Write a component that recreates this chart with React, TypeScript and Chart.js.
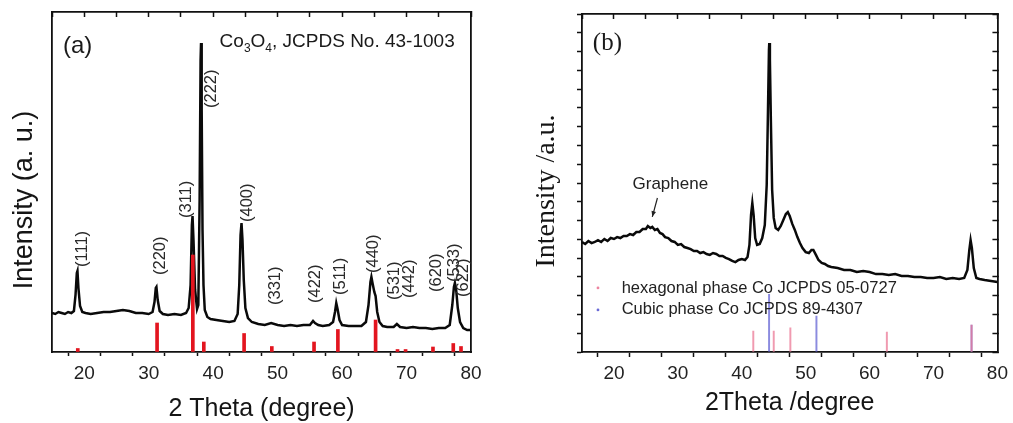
import React, { useEffect, useRef } from 'react';
import { Chart, registerables } from 'chart.js';

Chart.register(...registerables);

// ---------------- Panel (a): Co3O4 XRD pattern ----------------
const aTheta = [
  15.0, 15.5, 16.0, 16.5, 17.0, 17.5, 18.0, 18.4, 18.65, 18.85, 18.95, 19.1, 19.35, 19.7, 20.2,
  21.0, 22.0, 23.0, 24.0, 25.0, 26.0, 27.0, 28.0, 29.0, 30.0, 30.6, 30.9, 31.1, 31.2, 31.4,
  31.7, 32.2, 33.0, 34.0, 35.0, 35.8, 36.2, 36.5, 36.7, 36.8, 36.95, 37.2, 37.5, 37.7, 37.9,
  38.05, 38.12, 38.22, 38.35, 38.5, 38.7, 39.1, 39.6, 40.5, 41.5, 42.5, 43.3, 43.8, 44.05, 44.25,
  44.4, 44.55, 44.75, 45.0, 45.4, 46.0, 47.0, 48.0, 49.0, 50.0, 51.0, 52.0, 53.0, 54.0, 55.0,
  55.5, 55.8, 56.3, 57.0, 58.0, 58.6, 58.9, 59.1, 59.3, 59.6, 60.0, 61.0, 62.0, 63.0, 63.7,
  64.1, 64.4, 64.55, 64.75, 65.0, 65.2, 65.45, 65.8, 66.3, 67.0, 68.0, 68.5, 69.0, 70.0, 71.0,
  72.0, 73.0, 74.0, 75.0, 76.0, 76.7, 77.1, 77.35, 77.5, 77.7, 77.95, 78.3, 78.8, 79.4, 80.0,
];
const aIntensity = [
  39, 38, 40, 39, 38, 40, 39, 41, 57, 79, 81, 64, 46, 40, 39,
  38, 39, 40, 40, 41, 42, 41, 39, 39, 38, 40, 50, 64, 65, 52,
  41, 38, 37, 38, 37, 39, 44, 67, 127, 136, 112, 62, 43, 47, 152,
  292, 309, 242, 122, 67, 42, 35, 33, 32, 31, 30, 31, 38, 67, 117,
  129, 112, 72, 44, 34, 30, 28, 27, 29, 27, 26, 27, 26, 27, 27,
  31, 29, 27, 26, 27, 30, 40, 49, 43, 32, 27, 26, 26, 26, 30,
  47, 70, 75, 68, 60, 56, 40, 30, 26, 25, 25, 28, 25, 24, 25,
  24, 24, 23, 24, 24, 27, 47, 65, 69, 62, 44, 30, 24, 22, 22,
];
// JCPDS No. 43-1003 reference lines
const aRefTheta = [19.0, 31.3, 36.85, 38.55, 44.8, 49.1, 55.65, 59.35, 65.2, 68.6, 69.85, 74.1, 77.25, 78.45];
const aRefIntensity = [3.5, 29, 97, 10, 18.5, 5.5, 10, 22.5, 32, 2.5, 2.5, 5, 8.5, 5.5];
// Miller indices annotating the peaks
const aHklLabels = ['(111)', '(220)', '(311)', '(222)', '(400)', '(331)', '(422)', '(511)', '(440)', '(531)', '(442)', '(620)', '(533)', '(622)'];
const xTickLabels = ['20', '30', '40', '50', '60', '70', '80'];

// ---------------- Panel (b): Co/graphene XRD pattern ----------------
const bTheta = [
  15, 15.5, 16, 16.5, 17, 17.5, 18, 18.5, 19, 19.5, 20, 20.5, 21, 21.5, 22,
  22.5, 23, 23.5, 24, 24.5, 25, 25.3, 25.7, 26, 26.4, 26.8, 27.2, 27.6, 28, 28.5,
  29, 29.5, 30, 30.5, 31, 31.5, 32, 32.5, 33, 33.5, 34, 34.5, 35, 35.5, 36,
  36.5, 37, 37.5, 38, 38.5, 39, 39.5, 40, 40.5, 40.9, 41.2, 41.45, 41.65, 41.85, 42.1,
  42.4, 42.8, 43.2, 43.6, 43.9, 44.1, 44.25, 44.3, 44.4, 44.55, 44.75, 45.0, 45.3, 45.7, 46.1,
  46.5, 46.9, 47.2, 47.5, 47.9, 48.3, 48.7, 49.1, 49.5, 50.0, 50.5, 50.9, 51.2, 51.6, 52.0,
  52.5, 53, 53.5, 54, 55, 56, 57, 58, 59, 60, 61, 62, 63, 64, 65,
  66, 67, 68, 69, 70, 71, 72, 73, 74, 74.8, 75.3, 75.6, 75.8, 76.0, 76.3,
  76.7, 77.2, 78, 79, 80,
];
const bIntensity = [
  5.86, 5.75, 5.91, 5.80, 5.86, 5.96, 5.86, 6.02, 5.91, 6.07, 6.02, 6.12, 6.07, 6.18, 6.18,
  6.28, 6.23, 6.39, 6.39, 6.55, 6.55, 6.71, 6.60, 6.66, 6.50, 6.55, 6.34, 6.28, 6.12, 6.07,
  5.91, 5.86, 5.70, 5.75, 5.59, 5.54, 5.48, 5.38, 5.38, 5.27, 5.32, 5.22, 5.17, 5.27, 5.22,
  5.11, 5.11, 5.01, 4.95, 4.85, 4.79, 4.90, 4.95, 4.90, 5.06, 5.70, 7.30, 7.93, 7.30, 6.07,
  5.70, 5.75, 6.07, 6.76, 8.89, 12.89, 16.08, 16.45, 15.55, 12.35, 8.63, 7.14, 6.60, 6.50, 6.71,
  7.03, 7.35, 7.45, 7.24, 6.82, 6.50, 6.12, 5.80, 5.54, 5.32, 5.27, 5.43, 5.43, 5.17, 4.90,
  4.74, 4.69, 4.58, 4.53, 4.47, 4.37, 4.37, 4.26, 4.31, 4.26, 4.15, 4.15, 4.10, 4.15, 4.05,
  4.05, 3.99, 3.99, 3.94, 3.94, 3.99, 3.89, 3.94, 3.89, 3.94, 4.37, 5.43, 5.96, 5.54, 4.47,
  3.94, 3.89, 3.83, 3.78, 3.73,
];
// hexagonal phase Co, JCPDS 05-0727
const bHexTheta = [41.8, 45.0, 47.6, 62.7, 75.95];
const bHexIntensity = [1.12, 1.12, 1.29, 1.06, 1.43];
// cubic phase Co, JCPDS 89-4307
const bCubicTheta = [44.27, 51.68, 75.95];
const bCubicIntensity = [3.07, 1.91, 1.43];
const bLegendLabels = ['hexagonal phase Co JCPDS 05-0727', 'Cubic phase Co JCPDS 89-4307'];

const SANS = '"Liberation Sans", Arial, Helvetica, sans-serif';
const SERIF = '"Liberation Serif", "Times New Roman", Times, serif';
const AXIS = '#111';
const TEXT = '#222';

const toPoints = (xs: number[], ys: number[]) => xs.map((x, i) => ({ x, y: ys[i] }));

function xScales(tickLen: number, topH: number, title: string, titlePadBottom: number) {
  return {
    x: {
      type: 'linear', position: 'bottom', min: 15, max: 80, offset: false,
      ticks: {
        stepSize: 5, autoSkip: false, maxRotation: 0, padding: 10 - tickLen, color: TEXT,
        font: { family: SANS, size: 19 },
        callback: (v: number) => (xTickLabels.includes(String(v)) ? String(v) : ''),
      },
      grid: { drawOnChartArea: false, drawTicks: true, tickLength: tickLen, tickColor: AXIS, tickWidth: 1.5 },
      border: { display: true, color: AXIS, width: 1.8 },
      title: {
        display: true, text: title, color: '#151515',
        font: { family: SANS, size: 25, lineHeight: 1 },
        padding: { top: 0, bottom: titlePadBottom },
      },
      afterFit: (s: any) => { s.height = 71; },
    },
    xTop: {
      type: 'linear', position: 'top', min: 15, max: 80, offset: false,
      ticks: { display: false, stepSize: 5 },
      grid: { drawOnChartArea: false, drawTicks: true, tickLength: -5, tickColor: AXIS, tickWidth: 1.5 },
      border: { display: true, color: AXIS, width: 1.8 },
      afterFit: (s: any) => { s.height = topH; },
    },
  };
}

// ---------- annotation plugins ----------
const panelAText = {
  id: 'panelAText',
  afterDatasetsDraw(chart: any) {
    const { ctx, scales } = chart;
    const x = scales.x, y = scales.y;
    const hklAnchor = [
      [19.65, 85], [31.75, 77], [35.9, 134], [39.8, 244], [45.25, 130], [49.6, 47], [55.8, 49],
      [59.8, 57], [64.8, 79], [68.1, 52], [70.5, 54], [74.6, 60], [77.4, 70], [78.9, 55],
    ];
    ctx.save();
    ctx.fillStyle = '#2a2a2a';
    ctx.font = `16.5px ${SANS}`;
    ctx.textAlign = 'left';
    ctx.textBaseline = 'middle';
    aHklLabels.forEach((t, i) => {
      ctx.save();
      ctx.translate(x.getPixelForValue(hklAnchor[i][0]), y.getPixelForValue(hklAnchor[i][1]));
      ctx.rotate(-Math.PI / 2);
      ctx.fillText(t, 0, 0);
      ctx.restore();
    });
    // panel tag
    ctx.fillStyle = '#1a1a1a';
    ctx.font = `24px ${SANS}`;
    ctx.fillText('(a)', x.getPixelForValue(16.7), y.getPixelForValue(306));
    // phase caption with subscripts
    ctx.textBaseline = 'alphabetic';
    let cx = x.getPixelForValue(41.0);
    const base = y.getPixelForValue(305);
    const parts: [string, boolean][] = [['Co', false], ['3', true], ['O', false], ['4', true], [', JCPDS No. 43-1003', false]];
    for (const [t, sub] of parts) {
      ctx.font = sub ? `12px ${SANS}` : `19px ${SANS}`;
      ctx.fillText(t, cx, sub ? base + 5 : base);
      cx += ctx.measureText(t).width;
    }
    // y-axis title
    ctx.font = `27px ${SANS}`;
    ctx.fillStyle = '#151515';
    ctx.textAlign = 'center';
    ctx.textBaseline = 'middle';
    ctx.translate(25, 200);
    ctx.rotate(-Math.PI / 2);
    ctx.fillText('Intensity (a. u.)', 0, 0);
    ctx.restore();
  },
};

const panelBText = {
  id: 'panelBText',
  afterDatasetsDraw(chart: any) {
    const { ctx, scales } = chart;
    const x = scales.x, y = scales.y;
    ctx.save();
    // panel tag
    ctx.fillStyle = '#1a1a1a';
    ctx.font = `25px ${SERIF}`;
    ctx.textAlign = 'left';
    ctx.textBaseline = 'middle';
    ctx.fillText('(b)', x.getPixelForValue(16.7), y.getPixelForValue(16.45));
    // Graphene label + arrow
    ctx.font = `17px ${SANS}`;
    ctx.fillStyle = '#222';
    ctx.fillText('Graphene', x.getPixelForValue(22.9), y.getPixelForValue(8.95));
    const x1 = x.getPixelForValue(26.8), y1 = y.getPixelForValue(8.2);
    const x2 = x.getPixelForValue(26.0), y2 = y.getPixelForValue(7.2);
    ctx.strokeStyle = '#222';
    ctx.lineWidth = 1.2;
    ctx.beginPath(); ctx.moveTo(x1, y1); ctx.lineTo(x2, y2); ctx.stroke();
    const ang = Math.atan2(y2 - y1, x2 - x1);
    ctx.beginPath();
    ctx.moveTo(x2, y2);
    ctx.lineTo(x2 - 6 * Math.cos(ang - 0.4), y2 - 6 * Math.sin(ang - 0.4));
    ctx.lineTo(x2 - 6 * Math.cos(ang + 0.4), y2 - 6 * Math.sin(ang + 0.4));
    ctx.closePath();
    ctx.fillStyle = '#222';
    ctx.fill();
    // legend
    const legendColors = ['rgba(235,120,150,0.9)', 'rgba(90,90,210,0.9)'];
    const legendY = [3.41, 2.24];
    ctx.font = `16.5px ${SANS}`;
    bLegendLabels.forEach((t, i) => {
      const ly = y.getPixelForValue(legendY[i]);
      ctx.fillStyle = legendColors[i];
      ctx.beginPath();
      ctx.arc(x.getPixelForValue(17.5), ly, 1.4, 0, Math.PI * 2);
      ctx.fill();
      ctx.fillStyle = '#222';
      ctx.fillText(t, x.getPixelForValue(21.2), ly);
    });
    // y-axis title
    ctx.font = `28px ${SERIF}`;
    ctx.fillStyle = '#151515';
    ctx.textAlign = 'center';
    ctx.translate(37, 191);
    ctx.rotate(-Math.PI / 2);
    ctx.fillText('Intensity /a.u.', 0, 0);
    ctx.restore();
  },
};

function PanelA() {
  const ref = useRef<HTMLCanvasElement>(null);
  useEffect(() => {
    if (!ref.current) return;
    const chart = new Chart(ref.current, {
      type: 'line',
      data: {
        datasets: [
          {
            type: 'bar', label: 'JCPDS No. 43-1003', data: toPoints(aRefTheta, aRefIntensity) as any,
            backgroundColor: '#e3151f', barThickness: 3, grouped: false, order: 0,
          } as any,
          {
            type: 'line', label: 'Co3O4', data: toPoints(aTheta, aIntensity) as any,
            borderColor: '#0a0a0a', borderWidth: 2.5, pointRadius: 0, tension: 0, order: 1,
          },
        ],
      },
      options: {
        animation: false, responsive: false, maintainAspectRatio: false,
        layout: { padding: 0 },
        plugins: { legend: { display: false }, tooltip: { enabled: false } },
        scales: {
          ...xScales(4, 12, '2 Theta (degree)', 1.5),
          y: {
            type: 'linear', position: 'left', min: 0, max: 340,
            ticks: { display: false },
            grid: { drawOnChartArea: false, drawTicks: false },
            border: { display: true, color: AXIS, width: 1.8 },
            afterFit: (s: any) => { s.width = 52; },
          },
          yRight: {
            type: 'linear', position: 'right', min: 0, max: 340,
            ticks: { display: false },
            grid: { drawOnChartArea: false, drawTicks: false },
            border: { display: true, color: AXIS, width: 1.8 },
            afterFit: (s: any) => { s.width = 39; },
          },
        } as any,
      },
      plugins: [panelAText],
    });
    return () => chart.destroy();
  }, []);
  return <canvas ref={ref} width={510} height={423} style={{ position: 'absolute', left: 0, top: 0, display: 'block' }} />;
}

function PanelB() {
  const ref = useRef<HTMLCanvasElement>(null);
  useEffect(() => {
    if (!ref.current) return;
    const chart = new Chart(ref.current, {
      type: 'line',
      data: {
        datasets: [
          {
            type: 'bar', label: 'hexagonal phase Co JCPDS 05-0727', data: toPoints(bHexTheta, bHexIntensity) as any,
            backgroundColor: 'rgba(235,120,150,0.75)', barThickness: 1.3, grouped: false, order: 0,
          } as any,
          {
            type: 'bar', label: 'Cubic phase Co JCPDS 89-4307', data: toPoints(bCubicTheta, bCubicIntensity) as any,
            backgroundColor: 'rgba(90,90,210,0.7)', barThickness: 1.3, grouped: false, order: 0,
          } as any,
          {
            type: 'line', label: 'Co/graphene', data: toPoints(bTheta, bIntensity) as any,
            borderColor: '#0a0a0a', borderWidth: 2.5, pointRadius: 0, tension: 0, order: 1,
          },
        ],
      },
      options: {
        animation: false, responsive: false, maintainAspectRatio: false,
        layout: { padding: 0 },
        plugins: { legend: { display: false }, tooltip: { enabled: false } },
        scales: {
          ...xScales(5, 14, '2Theta /degree', 7.5),
          y: {
            type: 'linear', position: 'left', min: 0, max: 18,
            ticks: { display: false, stepSize: 1 },
            grid: { drawOnChartArea: false, drawTicks: true, tickLength: 5, tickColor: AXIS, tickWidth: 1.5 },
            border: { display: true, color: AXIS, width: 1.8 },
            afterFit: (s: any) => { s.width = 72; },
          },
          yRight: {
            type: 'linear', position: 'right', min: 0, max: 18,
            ticks: { display: false, stepSize: 1 },
            grid: { drawOnChartArea: false, drawTicks: true, tickLength: -5, tickColor: AXIS, tickWidth: 1.5 },
            border: { display: true, color: AXIS, width: 1.8 },
            afterFit: (s: any) => { s.width = 12; },
          },
        } as any,
      },
      plugins: [panelBText],
    });
    return () => chart.destroy();
  }, []);
  return <canvas ref={ref} width={503} height={423} style={{ position: 'absolute', left: 510, top: 0, display: 'block' }} />;
}

export default function App() {
  return (
    <div style={{ position: 'fixed', left: 0, top: 0, width: 1013, height: 423, background: '#fff', overflow: 'hidden' }}>
      <PanelA />
      <PanelB />
    </div>
  );
}
